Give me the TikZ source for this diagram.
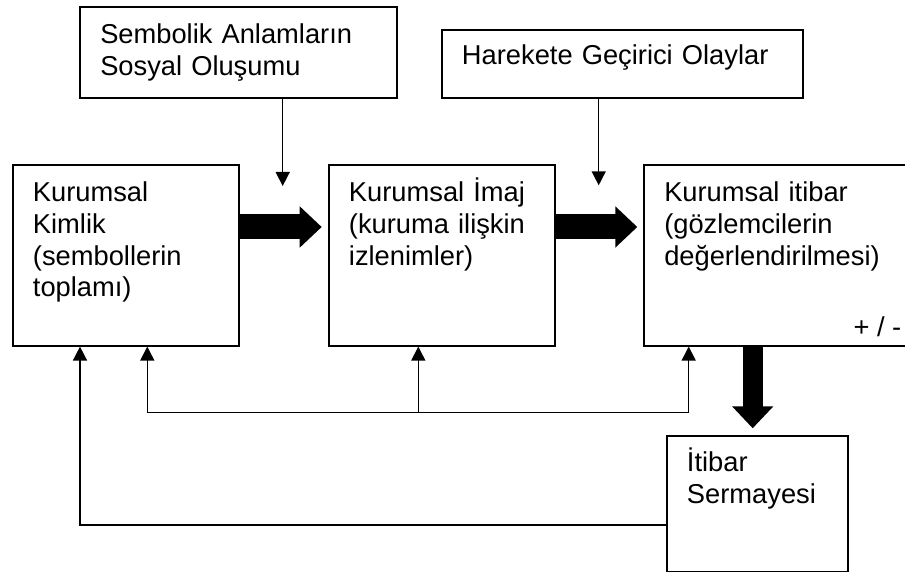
\documentclass[tikz,border=0pt]{standalone}
\usepackage{fontspec}
\setmainfont{Liberation Sans}
\usetikzlibrary{arrows.meta}
\newcommand\boxfont{\fontsize{27.3pt}{31.7pt}\selectfont}

\begin{document}
\begin{tikzpicture}[x=1pt,y=-1pt,
  box/.style={draw, line width=1.9pt, anchor=north west, align=left,
    inner xsep=20pt, inner ysep=0pt, font=\boxfont},
  conn/.style={line width=1.5pt, -{Triangle[width=14pt,length=14pt]}},
  plain/.style={line width=1.5pt},
  fat/.style={line width=25pt, -{Triangle[width=40pt,length=22pt]}},
  fatdown/.style={line width=20pt, -{Triangle[width=40pt,length=22pt]}}]

\clip (0,0) rectangle (905,572);

% upper boxes
\node[box, text width=276.7pt, text height=37pt, text depth=54.3pt] (semb) at (79.3,6)
  {Sembolik Anlamların\\Sosyal Oluşumu};
\node[box, text width=321pt, text height=34.7pt, text depth=32.7pt] (hare) at (441,29.3)
  {Harekete Geçirici Olaylar};

% middle row
\node[box, text width=186pt, text height=36.7pt, text depth=144pt] (kimlik) at (12,164)
  {Kurumsal\\Kimlik\\(sembollerin\\toplamı)};
\node[box, text width=186pt, text height=36.7pt, text depth=144pt] (imaj) at (328,164)
  {Kurumsal İmaj\\(kuruma ilişkin\\izlenimler)};
\node[box, text width=276.7pt, text height=36.7pt, text depth=144pt] (itibar) at (643.3,164)
  {Kurumsal itibar\\(gözlemcilerin\\değerlendirilmesi)};
\node[font=\boxfont, anchor=base west, inner sep=0pt] (pm) at (853.3,336.7) {+ / -};

% lower box
\node[box, text width=140.7pt, text height=36pt, text depth=99.7pt] (serm) at (666,435)
  {İtibar\\Sermayesi};

% thin arrows from the upper boxes
\coordinate (s1) at (282.7,186);
\coordinate (h1) at (598.7,185.3);
\draw[conn] (semb.south -| s1) -- (s1);
\draw[conn] (hare.south -| h1) -- (h1);

% thick arrows
\draw[fat, shorten >=6.3pt] ([yshift=-63pt]kimlik.north east) -- ([yshift=-63pt]imaj.north west);
\draw[fat, shorten >=6pt] ([yshift=-63pt]imaj.north east) -- ([yshift=-63pt]itibar.north west);
\coordinate (d1) at (752.7,0);
\draw[fatdown, shorten >=6.7pt] (itibar.south -| d1) -- (serm.north -| d1);

% feedback loops
\coordinate (fl) at (147.3,412.7);
\coordinate (fm) at (418.3,412.7);
\coordinate (fr) at (688.7,412.7);
\draw[plain] (fl) -- (fr);
\draw[conn] (fl) -- (kimlik.south -| fl);
\draw[conn] (fm) -- (imaj.south -| fm);
\draw[conn] (fr) -- (itibar.south -| fr);

\coordinate (b1) at (80,525);
\draw[conn] (serm.west |- b1) -- (b1) -- (kimlik.south -| b1);
\end{tikzpicture}
\end{document}
